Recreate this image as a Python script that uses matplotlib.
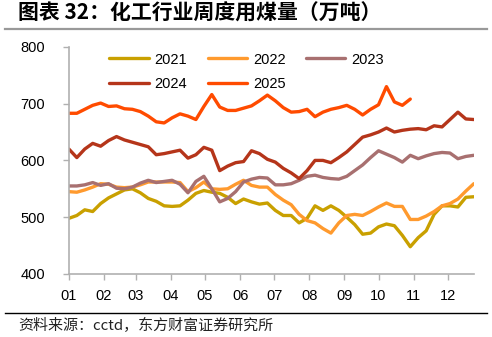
import numpy as np
import matplotlib
matplotlib.use("Agg")
import matplotlib.pyplot as plt
from matplotlib.lines import Line2D

plt.rcParams['font.family'] = ['Liberation Sans', 'Noto Sans CJK SC', 'DejaVu Sans']

# weekly coal use in chemical industry, 10k tonnes
y2021 = [498, 503, 513, 510, 524, 534, 541, 548, 550, 543, 533, 528, 520, 519, 520, 530,
         542, 547, 544, 542, 535, 524, 532, 527, 523, 525, 512, 503, 503, 490, 498, 520,
         512, 520, 512, 500, 487, 470, 472, 483, 488, 485, 468, 448, 464, 476, 505, 520,
         520, 518, 535, 536]
y2022 = [545, 544, 548, 553, 559, 558, 553, 552, 553, 557, 562, 562, 562, 562, 561, 545,
         552, 562, 550, 549, 550, 558, 565, 556, 553, 553, 540, 530, 522, 505, 494, 490,
         480, 472, 490, 503, 505, 503, 510, 518, 525, 519, 519, 496, 496, 502, 510, 520,
         524, 532, 546, 559]
y2023 = [555, 555, 557, 561, 556, 559, 551, 550, 553, 560, 565, 561, 563, 565, 558, 543,
         563, 572, 550, 527, 533, 545, 562, 567, 570, 569, 557, 557, 559, 565, 572, 574,
         570, 568, 567, 572, 582, 592, 605, 617, 611, 605, 597, 609, 603, 608, 612, 614,
         613, 603, 607, 609]
y2024 = [620, 605, 620, 630, 625, 635, 642, 636, 632, 628, 624, 610, 612, 615, 618, 604,
         610, 623, 618, 582, 590, 596, 598, 617, 612, 602, 597, 586, 578, 568, 582, 600,
         600, 596, 605, 615, 628, 641, 645, 650, 657, 650, 653, 655, 656, 654, 661, 659,
         672, 685, 673, 672]
y2025 = [683, 683, 690, 697, 701, 695, 696, 691, 690, 686, 678, 668, 666, 675, 682, 678,
         672, 695, 716, 694, 688, 688, 692, 696, 705, 715, 705, 693, 685, 686, 690, 677,
         685, 690, 693, 697, 690, 680, 690, 698, 730, 703, 697, 708]

years = ['2021', '2022', '2023', '2024', '2025']
month_labels = ['01', '02', '03', '04', '05', '06', '07', '08', '09', '10', '11', '12']
month_start_day = [0, 31, 59, 90, 120, 151, 181, 212, 243, 273, 304, 334]

colors = ['#C9A000', '#FF9A2E', '#A87070', '#B5351A', '#FF4B00']
series = [y2021, y2022, y2023, y2024, y2025]

fig = plt.figure(figsize=(4.92, 3.37), dpi=100)
ax = fig.add_axes([0.140, 0.187, 0.823, 0.674])

handles = []
for name, vals, c in zip(years, series, colors):
    h, = ax.plot(np.arange(len(vals)), vals, color=c, lw=2.4,
                 solid_joinstyle='round', solid_capstyle='round', label=name)
    handles.append(h)

ax.set_xlim(0, 51)
ax.set_ylim(400, 800)
ax.set_yticks([400, 500, 600, 700, 800])
ax.set_xticks(np.array(month_start_day) / 7.0)
ax.set_xticklabels(month_labels)

for s in ['top', 'right']:
    ax.spines[s].set_visible(False)
for s in ['left', 'bottom']:
    ax.spines[s].set_color('#B0B0B0')
    ax.spines[s].set_linewidth(1.2)
ax.tick_params(axis='both', colors='#B0B0B0', length=4, width=1.0, labelcolor='black',
               labelsize=10.5)
ax.tick_params(axis='y', pad=13)
ax.tick_params(axis='x', pad=7)

# legend filled column-wise, so order handles to read 2021 2022 2023 / 2024 2025
order = [0, 3, 1, 4, 2]
ax.legend([handles[i] for i in order], [years[i] for i in order], ncol=3,
          loc='upper left', bbox_to_anchor=(0.10, 0.975), frameon=False,
          borderpad=0, borderaxespad=0, handlelength=2.7, handletextpad=0.4,
          columnspacing=1.4, labelspacing=0.75, fontsize=10.5)

fig.text(0.037, 0.962, '图表 32：化工行业周度用煤量（万吨）', fontsize=15, fontweight='bold',
         family=['Noto Sans CJK SC', 'DejaVu Sans'], va='center', ha='left')
fig.add_artist(Line2D([0.01, 0.99], [0.913, 0.913], color='#999999', lw=1.6))
fig.add_artist(Line2D([0.01, 0.99], [0.071, 0.071], color='black', lw=1.0))
fig.text(0.037, 0.035, '资料来源：cctd，东方财富证券研究所', fontsize=10.8,
         family=['Noto Sans CJK SC', 'DejaVu Sans'], va='center', ha='left', color='#222222')

fig.savefig('out.png', dpi=100)
